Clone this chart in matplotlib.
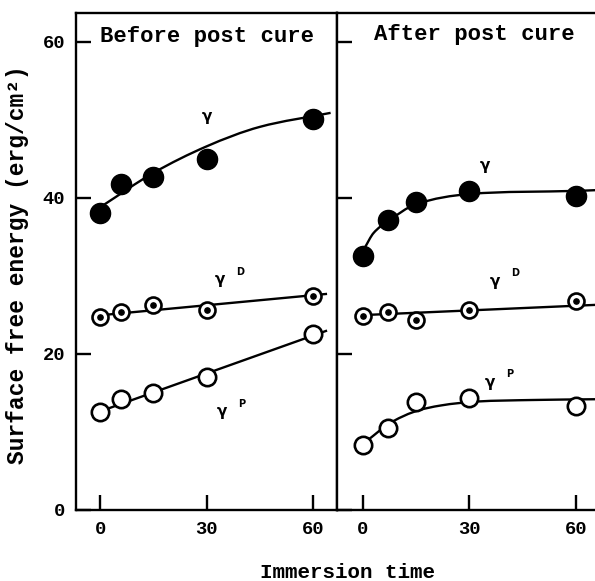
import numpy as np
import matplotlib
matplotlib.use("Agg")
import matplotlib.pyplot as plt
from matplotlib.path import Path
from matplotlib.patches import PathPatch

plt.rcParams['font.family'] = ['Liberation Mono', 'DejaVu Sans Mono']
plt.rcParams['font.weight'] = 'bold'

# ---------------- data ----------------
time_before = [0, 6, 15, 30, 60]
time_after = [0, 7, 15, 30, 60]

gamma_before = [38.1, 41.8, 42.7, 45.0, 50.1]
gammaD_before = [24.8, 25.4, 26.3, 25.6, 27.4]
gammaP_before = [12.5, 14.2, 15.0, 17.1, 22.5]

gamma_after = [32.6, 37.2, 39.5, 40.9, 40.3]
gammaD_after = [24.9, 25.4, 24.4, 25.6, 26.8]
gammaP_after = [8.3, 10.5, 13.8, 14.3, 13.3]

# hand-drawn fit lines (knots)
fit_gamma_before_t = [1, 15, 30, 45, 65]
fit_gamma_before_v = [39.1, 43.2, 46.6, 49.1, 50.9]
fit_gammaD_before_t = [1, 64]
fit_gammaD_before_v = [25.0, 27.7]
fit_gammaP_before_t = [1, 64]
fit_gammaP_before_v = [12.8, 23.0]

fit_gamma_after_t = [0.5, 3, 7, 15, 30, 60, 66]
fit_gamma_after_v = [33.6, 35.5, 37.0, 39.2, 40.5, 40.9, 41.0]
fit_gammaD_after_t = [1, 66]
fit_gammaD_after_v = [25.0, 26.3]
fit_gammaP_after_t = [1.5, 7.5, 14.5, 22, 32, 48, 66]
fit_gammaP_after_v = [9.0, 11.1, 12.6, 13.4, 13.9, 14.1, 14.2]

x_ticks = [0, 30, 60]
y_ticks = [0, 20, 40, 60]
panel_titles = ["Before post cure", "After post cure"]
x_label = "Immersion time"
y_label = "Surface free energy (erg/cm²)"


def smooth_path(ax, t, v, lw=1.7):
    """Smooth line through knots (cubic Hermite as Bezier, by library path)."""
    P = np.column_stack([t, v]).astype(float)
    n = len(P)
    if n == 2:
        ax.plot(P[:, 0], P[:, 1], color='black', lw=lw, zorder=2,
                solid_capstyle='butt')
        return
    tt = P[:, 0]
    # derivative vectors (d/dt)
    m = np.zeros_like(P)
    for i in range(n):
        if i == 0:
            m[i] = (P[1] - P[0]) / (tt[1] - tt[0])
        elif i == n - 1:
            m[i] = (P[-1] - P[-2]) / (tt[-1] - tt[-2])
        else:
            m[i] = (P[i + 1] - P[i - 1]) / (tt[i + 1] - tt[i - 1])
    verts = [tuple(P[0])]
    codes = [Path.MOVETO]
    for i in range(n - 1):
        h = tt[i + 1] - tt[i]
        c1 = P[i] + m[i] * h / 3.0
        c2 = P[i + 1] - m[i + 1] * h / 3.0
        verts += [tuple(c1), tuple(c2), tuple(P[i + 1])]
        codes += [Path.CURVE4] * 3
    patch = PathPatch(Path(verts, codes), fill=False, lw=lw,
                      edgecolor='black', zorder=2, transform=ax.transData)
    ax.add_patch(patch)


fig = plt.figure(figsize=(5.95, 5.81), dpi=100)
W, H = 595.0, 581.0
ax1 = fig.add_axes([76 / W, 71 / H, 261 / W, 497 / H])
ax2 = fig.add_axes([337 / W, 71 / H, 258 / W, 497 / H])

ylim = (0, 63.7)
ax1.set_xlim(-6.8, 66.8)
ax2.set_xlim(-7.3, 65.4)

panels = [
    (ax1, time_before, gamma_before, gammaD_before, gammaP_before,
     (fit_gamma_before_t, fit_gamma_before_v),
     (fit_gammaD_before_t, fit_gammaD_before_v),
     (fit_gammaP_before_t, fit_gammaP_before_v)),
    (ax2, time_after, gamma_after, gammaD_after, gammaP_after,
     (fit_gamma_after_t, fit_gamma_after_v),
     (fit_gammaD_after_t, fit_gammaD_after_v),
     (fit_gammaP_after_t, fit_gammaP_after_v)),
]

for ax, t, g, gd, gp, fg, fgd, fgp in panels:
    ax.set_ylim(*ylim)
    smooth_path(ax, *fg)
    smooth_path(ax, *fgd)
    smooth_path(ax, *fgp)
    ax.plot(t, g, 'o', ms=14.5, mfc='black', mec='black', zorder=4)
    ax.plot(t, gd, 'o', ms=11.5, mfc='white', mec='black', mew=1.9, zorder=4)
    ax.plot(t, gd, 'o', ms=3.8, mfc='black', mec='black', zorder=5)
    ax.plot(t, gp, 'o', ms=12.5, mfc='white', mec='black', mew=1.9, zorder=4)

    ax.set_xticks(x_ticks)
    ax.set_yticks(y_ticks)
    ax.tick_params(axis='both', direction='in', length=11, width=1.7,
                   labelsize=13.5, pad=8)
    for s in ax.spines.values():
        s.set_linewidth(1.7)

ax2.tick_params(axis='y', labelleft=False)
ax2.spines['right'].set_visible(False)
for lab in ax1.get_xticklabels() + ax1.get_yticklabels() + ax2.get_xticklabels():
    lab.set_fontweight('bold')

# panel titles
ax1.text(0.502, 0.952, panel_titles[0], transform=ax1.transAxes,
         ha='center', va='center', fontsize=16, fontweight='bold')
ax2.text(0.531, 0.956, panel_titles[1], transform=ax2.transAxes,
         ha='center', va='center', fontsize=16, fontweight='bold')

# curve labels
def glabel(ax, x, y, sup):
    ax.text(x, y, "γ", ha='center', va='center', fontsize=11,
            family=['DejaVu Sans'], fontweight='bold', zorder=6)
    if sup:
        ax.annotate(sup, (x, y), xytext=(20, 8), textcoords='offset pixels',
                    ha='center', va='center', fontsize=7,
                    family=['DejaVu Sans'], fontweight='bold', zorder=6)

glabel(ax1, 30.0, 50.4, None)
glabel(ax1, 33.8, 29.5, "D")
glabel(ax1, 34.3, 12.6, "P")
glabel(ax2, 34.4, 44.2, None)
glabel(ax2, 37.2, 29.3, "D")
glabel(ax2, 35.8, 16.4, "P")

fig.text(18 / W, 1 - 265 / H, y_label, rotation=90, ha='center',
         va='center', fontsize=16.5, fontweight='bold')
fig.text(347 / W, 1 - 572 / H, x_label, ha='center', va='center',
         fontsize=15, fontweight='bold')

fig.savefig('out.png', dpi=100)
